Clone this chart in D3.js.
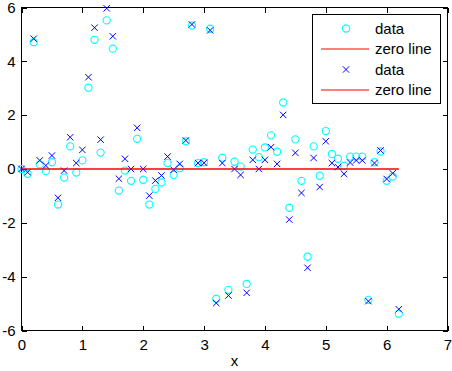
<!DOCTYPE html>
<html><head><meta charset="utf-8">
<script src="https://cdn.jsdelivr.net/npm/d3@7"></script>
<style>body{margin:0;background:#fff}svg{display:block}text{font-family:"Liberation Sans",Arial,sans-serif}</style>
</head><body><div id="chart"></div>
<script>
const xValues = d3.range(63).map(i => +(i * 0.1).toFixed(1));
const circleData = [0.0,-0.18,4.71,0.17,-0.08,0.25,-1.32,-0.32,0.84,-0.13,0.32,3.02,4.80,0.61,5.52,4.47,
  -0.80,-0.06,-0.44,1.12,-0.40,-1.32,-0.74,-0.50,0.22,-0.22,0.03,1.03,5.33,0.22,0.25,5.21,
  -4.82,0.42,-4.49,0.27,0.09,-4.27,0.72,0.44,0.80,1.25,0.64,2.47,-1.44,1.10,-0.44,-3.26,
  0.84,-0.25,1.41,0.56,0.38,0.12,0.46,0.46,0.46,-4.86,0.25,0.65,-0.44,-0.28,-5.38];
const crossData = [0.0,-0.12,4.84,0.32,0.13,0.50,-1.07,-0.06,1.18,0.22,0.71,3.41,5.25,1.09,5.97,4.93,
  -0.36,0.38,0.0,1.53,0.0,-0.99,-0.43,-0.24,0.46,-0.03,0.19,1.06,5.37,0.22,0.23,5.15,
  -4.98,0.22,-4.70,0.0,-0.22,-4.60,0.34,0.0,0.34,0.81,0.19,2.01,-1.88,0.60,-0.89,-3.67,
  0.41,-0.67,1.03,0.22,0.07,-0.18,0.24,0.32,0.32,-4.91,0.22,0.69,-0.37,-0.16,-5.21];
const zeroLine = [[0,0],[6.2,0]];
const xTicks = [0,1,2,3,4,5,6,7];
const yTicks = [-6,-4,-2,0,2,4,6];
const legendLabels = ["data","zero line","data","zero line"];

const W = 452, H = 371;
const L = 21, R = 447, T = 7, B = 330;
const svg = d3.select("#chart").append("svg").attr("width", W).attr("height", H);
const x = d3.scaleLinear().domain([0,7]).range([L + 0.5, R + 0.5]);
const y = d3.scaleLinear().domain([-6,6]).range([B + 0.5, T + 0.5]);

const fs = 15;
const fmt = d => String(d);
const tl = 5;
const gB = svg.append("g").attr("transform", `translate(0,${B + 0.5})`)
  .call(d3.axisBottom(x).tickValues(xTicks).tickSize(-tl).tickPadding(8).tickFormat(fmt));
const gT = svg.append("g").attr("transform", `translate(0,${T + 0.5})`)
  .call(d3.axisTop(x).tickValues(xTicks).tickSize(-tl).tickFormat(""));
const gL = svg.append("g").attr("transform", `translate(${L + 0.5},0)`)
  .call(d3.axisLeft(y).tickValues(yTicks).tickSize(-tl).tickPadding(6).tickFormat(fmt));
const gR = svg.append("g").attr("transform", `translate(${R + 0.5},0)`)
  .call(d3.axisRight(y).tickValues(yTicks).tickSize(-tl).tickFormat(""));
[gB,gT,gL,gR].forEach(g => {
  g.select(".domain").remove();
  g.selectAll("line").attr("stroke","#000").attr("shape-rendering","crispEdges");
  g.selectAll("text").attr("font-size", fs).attr("fill","#000").attr("font-family",'"Liberation Sans",Arial,sans-serif');
});
gB.selectAll("text").attr("dy","0.75em").attr("y", 8);
svg.append("rect").attr("x", L + 0.5).attr("y", T + 0.5).attr("width", R - L).attr("height", B - T)
  .attr("fill","none").attr("stroke","#000").attr("shape-rendering","crispEdges");

svg.append("text").attr("x", x(3.5)).attr("y", 366).attr("text-anchor","middle")
  .attr("font-size", fs).text("x");

const pts = xValues.map((xv,i) => ({x: xv, c: circleData[i], k: crossData[i]}));
const line = d3.line().x(d => x(d[0])).y(d => y(d[1]));

svg.append("g").selectAll("circle").data(pts).join("circle")
  .attr("cx", d => x(d.x)).attr("cy", d => y(d.c)).attr("r", 3.6)
  .attr("fill","none").attr("stroke","#00ffff").attr("stroke-width",1.1);
svg.append("path").datum(zeroLine).attr("d", line).attr("stroke","#ff0000").attr("fill","none").attr("stroke-width",1.2);
const s = 3.2;
svg.append("g").selectAll("path").data(pts).join("path")
  .attr("d", d => { const cx = x(d.x), cy = y(d.k); return `M${cx-s},${cy-s}L${cx+s},${cy+s}M${cx-s},${cy+s}L${cx+s},${cy-s}`; })
  .attr("stroke","#0000ff").attr("fill","none").attr("stroke-width",1);
svg.append("path").datum(zeroLine).attr("d", line).attr("stroke","#ff0000").attr("fill","none").attr("stroke-width",1.2);

// legend
const lg = svg.append("g");
lg.append("rect").attr("x", 312.5).attr("y", 14.5).attr("width", 128).attr("height", 89)
  .attr("fill","#fff").attr("stroke","#000").attr("shape-rendering","crispEdges");
const rowY = [28.5, 49, 69.5, 90];
legendLabels.forEach((lab, i) => {
  const yy = rowY[i];
  if (i === 0) lg.append("circle").attr("cx", 346).attr("cy", yy).attr("r", 3.6).attr("fill","none").attr("stroke","#00ffff").attr("stroke-width",1.1);
  if (i === 2) lg.append("path").attr("d", `M${346-s},${yy-s}L${346+s},${yy+s}M${346-s},${yy+s}L${346+s},${yy-s}`).attr("stroke","#0000ff");
  if (i === 1 || i === 3) lg.append("line").attr("x1", 321).attr("x2", 369).attr("y1", yy).attr("y2", yy).attr("stroke","#ff0000").attr("stroke-width",1.2);
  lg.append("text").attr("x", 375).attr("y", yy + 5).attr("font-size", fs).text(lab);
});
</script></body></html>
